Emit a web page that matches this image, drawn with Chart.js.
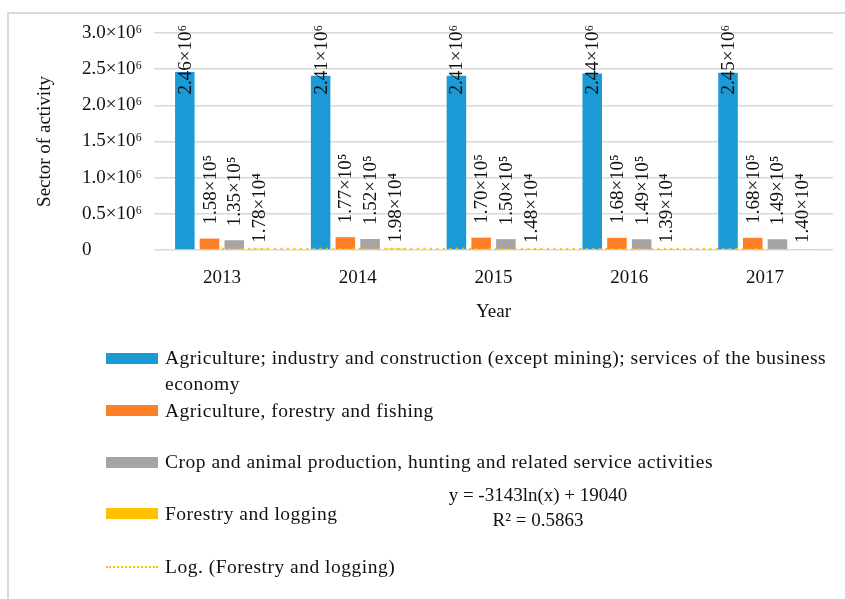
<!DOCTYPE html>
<html>
<head>
<meta charset="utf-8">
<script src="https://cdn.jsdelivr.net/npm/chart.js@4/dist/chart.umd.min.js"></script>
<style>
  html, body { margin: 0; padding: 0; background: #fff; }
  body { width: 845px; height: 599px; position: relative; overflow: hidden; font-family: "Liberation Serif", serif; color: #111; }
  #frame { position: absolute; left: 7px; top: 12px; width: 900px; height: 700px; border: 2px solid #d9d9d9; box-sizing: border-box; }
  #c { position: absolute; left: 0; top: 0; }
  .sw { position: absolute; left: 106px; width: 52px; height: 11px; }
  .dot { position: absolute; left: 106px; width: 52px; height: 0; border-top: 2px dotted #FFC000; }
  .lt { position: absolute; left: 165px; width: 672px; font-size: 19.5px; letter-spacing: 0.5px; line-height: 26px; }
  .eq { position: absolute; left: 438px; width: 200px; text-align: center; font-size: 19px; line-height: 25px; }
</style>
</head>
<body>
<div id="frame"></div>
<canvas id="c" width="845" height="599"></canvas>
<div id="legend"></div>
<div class="eq" id="eq" style="top:482px;"></div>
<script>
// ---- data ----
const categories = ['2013', '2014', '2015', '2016', '2017'];
const businessEconomy = [2460000, 2410000, 2410000, 2440000, 2450000];
const agriForestryFishing = [158000, 177000, 170000, 168000, 168000];
const cropAnimalProduction = [135000, 152000, 150000, 149000, 149000];
const forestryLogging = [17800, 19800, 14800, 13900, 14000];
const forestryTrend = [19040, 16862, 15587, 14683, 13982];
const yTicks = [0, 500000, 1000000, 1500000, 2000000, 2500000, 3000000];
const seriesNames = [
  'Agriculture; industry and construction (except mining); services of the business economy',
  'Agriculture, forestry and fishing',
  'Crop and animal production, hunting and related service activities',
  'Forestry and logging',
  'Log. (Forestry and logging)'
];
const trendEquation = ['y = -3143ln(x) + 19040', 'R\u00B2 = 0.5863'];

const COLORS = ['#1B9AD6', '#FF7F27', '#A5A5A5', '#FFC000', '#FFC000'];
const FONT = 'Liberation Serif';
const SUP = {'0':'\u2070','1':'\u00B9','2':'\u00B2','3':'\u00B3','4':'\u2074','5':'\u2075','6':'\u2076','7':'\u2077','8':'\u2078','9':'\u2079'};

function sci(v) {
  const e = Math.floor(Math.log10(v));
  const m = (v / Math.pow(10, e)).toFixed(2);
  return m + '\u00D710' + String(e).split('').map(d => SUP[d]).join('');
}

const labelGaps = [14, 14, 14, 6];

const barLabels = {
  id: 'barLabels',
  afterDatasetsDraw(chart) {
    const ctx = chart.ctx;
    ctx.save();
    ctx.font = '19px "' + FONT + '"';
    ctx.fillStyle = '#111';
    ctx.textAlign = 'left';
    ctx.textBaseline = 'middle';
    chart.data.datasets.forEach((ds, di) => {
      if (ds.type === 'line') return;
      const meta = chart.getDatasetMeta(di);
      meta.data.forEach((bar, i) => {
        const text = sci(ds.data[i]);
        const w = ctx.measureText(text).width;
        let bottom = bar.y - labelGaps[di];
        const minTop = 25;
        if (bottom - w < minTop) bottom = minTop + w;
        ctx.save();
        ctx.translate(bar.x + 1, bottom);
        ctx.rotate(-Math.PI / 2);
        ctx.fillText(text, 0, 0);
        ctx.restore();
      });
    });
    ctx.restore();
  }
};

const barCommon = { categoryPercentage: 0.728, barPercentage: 0.79, borderWidth: 0, order: 1 };

new Chart(document.getElementById('c'), {
  type: 'bar',
  data: {
    labels: categories,
    datasets: [
      Object.assign({ label: seriesNames[0], data: businessEconomy, backgroundColor: COLORS[0] }, barCommon),
      Object.assign({ label: seriesNames[1], data: agriForestryFishing, backgroundColor: COLORS[1] }, barCommon),
      Object.assign({ label: seriesNames[2], data: cropAnimalProduction, backgroundColor: COLORS[2] }, barCommon),
      Object.assign({ label: seriesNames[3], data: forestryLogging, backgroundColor: COLORS[3] }, barCommon),
      { type: 'line', label: seriesNames[4], data: forestryTrend, borderColor: COLORS[4], borderWidth: 2,
        borderDash: [2, 4.5], pointRadius: 0, fill: false, tension: 0, order: 0 }
    ]
  },
  options: {
    responsive: false,
    devicePixelRatio: 1,
    animation: false,
    layout: { padding: { left: 82, top: 33, right: 12, bottom: 269 } },
    plugins: { legend: { display: false }, tooltip: { enabled: false } },
    scales: {
      x: {
        grid: { display: false, drawTicks: false },
        border: { display: false },
        ticks: { color: '#111', font: { family: FONT, size: 19 }, padding: 17 },
        title: { display: true, text: 'Year', color: '#111', font: { family: FONT, size: 19 }, padding: { top: 0, bottom: 7 } },
        afterFit(s) { s.height = 80; }
      },
      y: {
        min: 0, max: 3000000,
        afterBuildTicks(s) { s.ticks = yTicks.map(v => ({ value: v })); },
        grid: { color: '#d9d9d9', lineWidth: 1.5, drawTicks: false },
        border: { display: false },
        ticks: {
          color: '#111', font: { family: FONT, size: 19 }, padding: 10, crossAlign: 'far',
          callback: v => v === 0 ? '0' : (v / 1e6).toFixed(1) + '\u00D710\u2076'
        },
        title: { display: true, text: 'Sector of activity', color: '#111', font: { family: FONT, size: 19 }, padding: { top: -48.4, bottom: 0 } },
        afterFit(s) { s.width = 72; }
      }
    }
  },
  plugins: [barLabels]
});

// ---- legend (HTML text) ----
const legendTops = [345, 398, 449, 501, 554];
const swatchTops = [353, 405, 457, 508, 566];
const lg = document.getElementById('legend');
seriesNames.forEach((name, i) => {
  const sw = document.createElement('div');
  if (i === 4) { sw.className = 'dot'; sw.style.top = swatchTops[i] + 'px'; }
  else { sw.className = 'sw'; sw.style.top = swatchTops[i] + 'px'; sw.style.background = COLORS[i]; }
  lg.appendChild(sw);
  const t = document.createElement('div');
  t.className = 'lt';
  t.style.top = legendTops[i] + 'px';
  t.textContent = name;
  lg.appendChild(t);
});
document.getElementById('eq').innerHTML = trendEquation.map(s => '<div>' + s + '</div>').join('');
</script>
</body>
</html>
